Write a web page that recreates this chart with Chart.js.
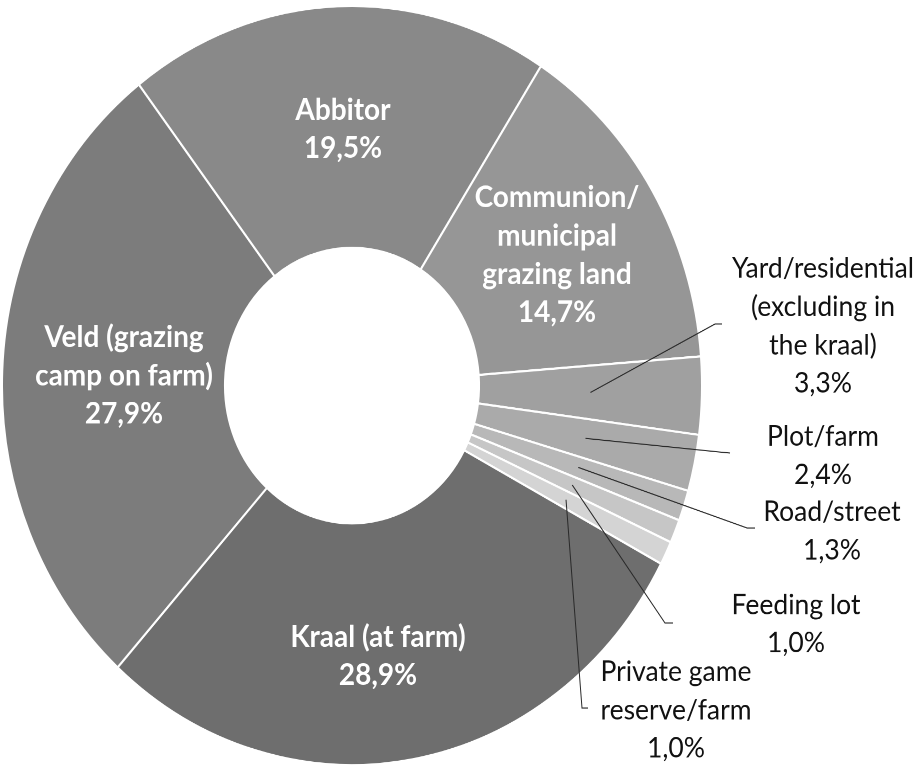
<!DOCTYPE html>
<html>
<head>
<meta charset="utf-8">
<script src="https://cdn.jsdelivr.net/npm/chart.js@4/dist/chart.umd.min.js"></script>
<style>
  html, body { margin: 0; padding: 0; background: #fff; }
  #chart { display: block; }
</style>
</head>
<body>
<canvas id="chart" width="923" height="711" style="width:923px;height:771px"></canvas>
<script>
// data, clockwise from the Kraal slice
const categories = ['Kraal (at farm)', 'Veld (grazing camp on farm)', 'Abbitor',
    'Communion/ municipal grazing land', 'Yard/residential (excluding in the kraal)',
    'Plot/farm', 'Road/street', 'Feeding lot', 'Private game reserve/farm'];
const shares = [28.9, 27.9, 19.5, 14.7, 3.3, 2.4, 1.3, 1.0, 1.0];
const nameLines = [
    ['Kraal (at farm)'],
    ['Veld (grazing', 'camp on farm)'],
    ['Abbitor'],
    ['Communion/', 'municipal', 'grazing land'],
    ['Yard/residential', '(excluding in', 'the kraal)'],
    ['Plot/farm'],
    ['Road/street'],
    ['Feeding lot'],
    ['Private game', 'reserve/farm']
];
const sliceColors = ['#6e6e6e', '#7c7c7c', '#898989', '#969696', '#a0a0a0',
    '#aaaaaa', '#b8b8b8', '#c6c6c6', '#d4d4d4'];

// the picture is stretched vertically: canvas drawn at 923x711, shown at 923x771
const SY = 771 / 711;
const LINE_H = 38.3; // screen px

// label block centres (screen px); inside labels are white/bold,
// outside ones get a leader line: elbow x,y then end x,y
const labelPlaces = [
    { x: 378, y: 656, inside: true },
    { x: 124, y: 375.5, inside: true },
    { x: 343, y: 129, inside: true },
    { x: 557, y: 255, inside: true },
    { x: 823, y: 326, leader: [715, 324, 722, 324] },
    { x: 823, y: 455.5, leader: [720, 452, 730, 453] },
    { x: 832, y: 531, leader: [747, 528, 755, 528] },
    { x: 796, y: 624, leader: [665, 623, 673, 623] },
    { x: 676, y: 710, leader: [582, 708, 588, 708] }
];

function fmtPct(v) {
    return v.toFixed(1).replace('.', ',') + '%';
}

const sliceLabels = {
    id: 'sliceLabels',
    afterDatasetsDraw(chart) {
        const ctx = chart.ctx;
        const arcs = chart.getDatasetMeta(0).data;
        ctx.save();
        ctx.textAlign = 'center';
        ctx.textBaseline = 'middle';
        arcs.forEach((arc, i) => {
            const p = labelPlaces[i];
            if (p.leader) {
                const a = arc.tooltipPosition();
                ctx.strokeStyle = '#2a2a2a';
                ctx.lineWidth = 1;
                ctx.beginPath();
                ctx.moveTo(a.x, a.y);
                ctx.lineTo(p.leader[0], p.leader[1] / SY);
                ctx.lineTo(p.leader[2], p.leader[3] / SY);
                ctx.stroke();
            }
            const lines = nameLines[i].concat([fmtPct(shares[i])]);
            ctx.fillStyle = p.inside ? '#ffffff' : '#111111';
            ctx.font = p.inside ? 'bold 28px Lato' : '26.5px Lato';
            lines.forEach((t, k) => {
                const yScreen = p.y + (k - (lines.length - 1) / 2) * LINE_H;
                ctx.fillText(t, p.x, yScreen / SY);
            });
        });
        ctx.restore();
    }
};

new Chart(document.getElementById('chart'), {
    type: 'doughnut',
    data: {
        labels: categories,
        datasets: [{
            data: shares,
            backgroundColor: sliceColors,
            borderColor: '#ffffff',
            borderWidth: 2,
            hoverOffset: 0,
            rotation: 118,
            radius: 350,
            cutout: '36.3%'
        }]
    },
    options: {
        responsive: false,
        devicePixelRatio: 2,
        animation: false,
        events: [],
        layout: { padding: { left: 0, right: 219, top: 0, bottom: 0 } },
        plugins: {
            legend: { display: false },
            tooltip: { enabled: false }
        }
    },
    plugins: [sliceLabels]
});
</script>
</body>
</html>
